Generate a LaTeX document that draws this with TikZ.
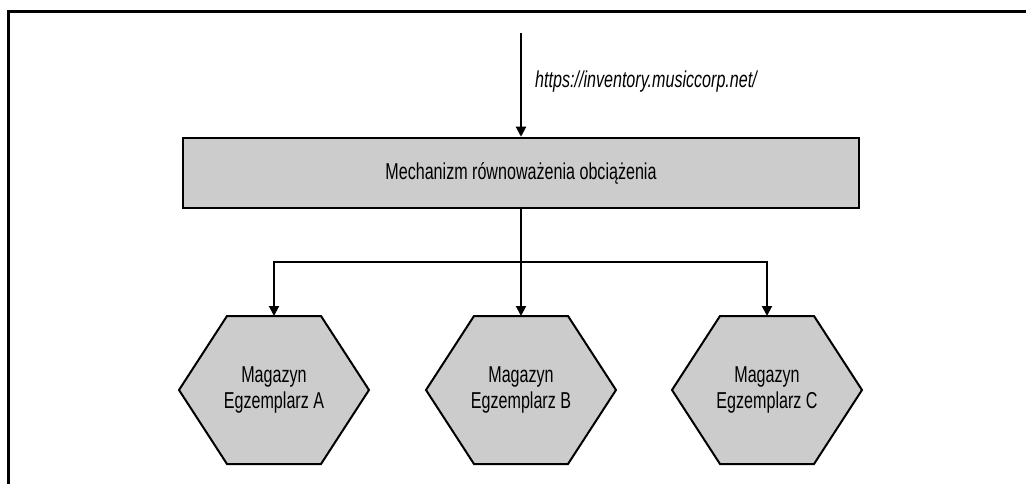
\documentclass[tikz,border=0pt]{standalone}
\usepackage{fontspec}
\setmainfont{Liberation Sans}[FakeStretch=0.70]
\usetikzlibrary{arrows.meta}
\definecolor{boxgray}{HTML}{CCCCCC}
\pgfdeclarelayer{bg}
\pgfsetlayers{bg,main}
\begin{document}
\begin{tikzpicture}[x=1pt,y=-1pt,
  frameline/.style={line width=3pt},
  conn/.style={line width=2pt,-{Triangle[length=10pt,width=10pt]}},
  lbbox/.style={draw,line width=2.5pt,fill=boxgray,minimum width=676pt,minimum height=70pt,inner sep=0pt,font=\fontsize{23}{25}\selectfont},
  hexnode/.style={minimum width=190pt,minimum height=148pt,inner sep=0pt,outer sep=0pt,align=center,font=\fontsize{23}{25.7}\selectfont},
  hexline/.style={draw,line width=2pt,fill=boxgray,line join=miter},
  urltext/.style={font=\fontsize{23}{25}\selectfont\itshape,anchor=west,inner sep=0pt}
]
\useasboundingbox (0,0) rectangle (1026,484);
\draw[frameline] (8.5,484) -- (8.5,12) -- (1026,12);

\coordinate (in) at (521,33);
\node[lbbox] (lb) at (521,173) {Mechanizm równoważenia obciążenia};
\node[urltext] (url) at (535,82) {https://inventory.musiccorp.net/};

\node[hexnode] (hA) at (274,390) {Magazyn\\Egzemplarz A};
\node[hexnode] (hB) at (521,390) {Magazyn\\Egzemplarz B};
\node[hexnode] (hC) at (767,390) {Magazyn\\Egzemplarz C};

\begin{pgfonlayer}{bg}
\foreach \h in {hA,hB,hC}{
  \draw[hexline] (\h.west) -- ([xshift=48pt]\h.north west) -- ([xshift=-48pt]\h.north east)
    -- (\h.east) -- ([xshift=-48pt]\h.south east) -- ([xshift=48pt]\h.south west) -- cycle;
}
\end{pgfonlayer}

\coordinate (j) at (521,262);
\draw[conn] (in) -- (lb.north);
\draw[conn] (lb.south) -- (hB.north);
\draw[conn] (j) -| (hA.north);
\draw[conn] (j) -| (hC.north);
\end{tikzpicture}
\end{document}
